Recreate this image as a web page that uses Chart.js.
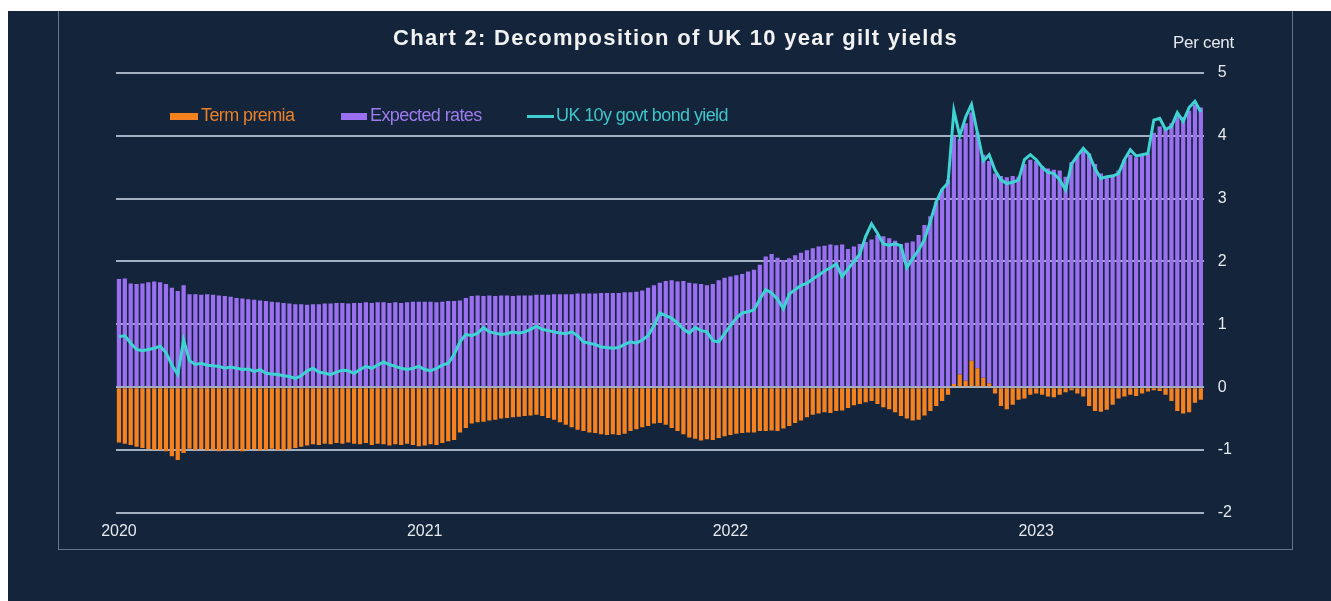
<!DOCTYPE html>
<html>
<head>
<meta charset="utf-8">
<title>Chart 2: Decomposition of UK 10 year gilt yields</title>
<script src="https://cdn.jsdelivr.net/npm/chart.js@4.4.0/dist/chart.umd.min.js"></script>
<style>
  html, body { margin: 0; padding: 0; background: #ffffff; }
  #wrap { position: relative; width: 1331px; height: 601px; overflow: hidden; }
  #bg { position: absolute; left: 8px; top: 11px; width: 1323px; height: 590px; background: #13243b; }
  #frame { position: absolute; left: 58px; top: 11px; width: 1233px; height: 538px;
           border: 1px solid #66758a; border-top: none; }
  canvas { position: absolute; left: 0; top: 0; }
  .txt { position: absolute; font-family: "Liberation Sans", Arial, sans-serif; white-space: nowrap; }
  #title { left: 0; width: 1351px; text-align: center; top: 25px; font-size: 22px; font-weight: bold;
           color: #f2f2f2; letter-spacing: 1.3px; }
  #unit { left: 1173px; top: 33px; font-size: 17px; color: #e6e9ee; letter-spacing: -0.3px; }
  .leg { top: 105px; font-size: 18px; letter-spacing: -0.6px; }
  .sw { position: absolute; }
</style>
</head>
<body>
<div id="wrap">
  <div id="bg"></div>
  <div id="frame"></div>
  <canvas id="chart" width="1331" height="601"></canvas>
  <div class="txt" id="title">Chart 2: Decomposition of UK 10 year gilt yields</div>
  <div class="txt" id="unit">Per cent</div>
  <div class="sw" style="left:170px;top:113px;width:28px;height:7px;background:#f5821f"></div>
  <div class="txt leg" style="left:201px;color:#e8802a">Term premia</div>
  <div class="sw" style="left:341px;top:113px;width:26px;height:7px;background:#9a6ff0"></div>
  <div class="txt leg" style="left:370px;color:#9d7cf0">Expected rates</div>
  <div class="sw" style="left:527px;top:115px;width:27px;height:3px;background:#3fcfd0"></div>
  <div class="txt leg" style="left:556px;color:#3fc6c8">UK 10y govt bond yield</div>
</div>
<script>
// weekly observations, Jan 2020 - Jul 2023 (per cent)
const termPremia = [
  -0.88,-0.90,-0.92,-0.95,-0.97,-0.99,-1.00,-1.00,-1.02,-1.10,
  -1.16,-1.05,-0.98,-1.00,-0.99,-1.01,-1.00,-1.02,-1.01,-1.00,
  -1.01,-1.02,-1.00,-0.99,-1.01,-1.00,-0.98,-1.00,-1.01,-0.99,
  -0.97,-0.95,-0.93,-0.91,-0.92,-0.90,-0.91,-0.89,-0.90,-0.88,
  -0.90,-0.91,-0.89,-0.92,-0.90,-0.91,-0.93,-0.91,-0.92,-0.90,
  -0.92,-0.94,-0.93,-0.91,-0.92,-0.89,-0.86,-0.84,-0.72,-0.65,
  -0.58,-0.56,-0.55,-0.53,-0.52,-0.50,-0.49,-0.48,-0.47,-0.46,
  -0.45,-0.44,-0.46,-0.49,-0.52,-0.56,-0.60,-0.64,-0.68,-0.70,
  -0.72,-0.73,-0.75,-0.76,-0.75,-0.76,-0.74,-0.70,-0.67,-0.64,
  -0.62,-0.58,-0.57,-0.60,-0.65,-0.70,-0.75,-0.80,-0.82,-0.85,
  -0.83,-0.84,-0.81,-0.78,-0.76,-0.74,-0.73,-0.72,-0.72,-0.70,
  -0.70,-0.69,-0.70,-0.66,-0.62,-0.57,-0.53,-0.48,-0.44,-0.42,
  -0.40,-0.41,-0.38,-0.37,-0.33,-0.29,-0.27,-0.24,-0.22,-0.27,
  -0.32,-0.35,-0.40,-0.46,-0.50,-0.53,-0.52,-0.45,-0.38,-0.30,
  -0.22,-0.12, 0.05, 0.20, 0.10, 0.42, 0.30, 0.15, 0.06,-0.10,
  -0.30,-0.35,-0.28,-0.20,-0.18,-0.12,-0.10,-0.12,-0.15,-0.16,
  -0.12,-0.08,-0.05,-0.10,-0.15,-0.30,-0.38,-0.39,-0.36,-0.28,
  -0.18,-0.15,-0.12,-0.14,-0.10,-0.07,-0.05,-0.06,-0.12,-0.22,
  -0.38,-0.42,-0.40,-0.25,-0.20
];
const expectedRates = [
  1.72,1.73,1.65,1.64,1.65,1.67,1.68,1.67,1.64,1.58,
  1.53,1.62,1.48,1.48,1.47,1.48,1.47,1.46,1.45,1.44,
  1.42,1.41,1.40,1.39,1.38,1.37,1.36,1.35,1.34,1.33,
  1.32,1.32,1.31,1.32,1.32,1.33,1.33,1.34,1.34,1.33,
  1.34,1.34,1.35,1.34,1.35,1.35,1.34,1.35,1.34,1.35,
  1.36,1.36,1.36,1.36,1.35,1.36,1.37,1.37,1.38,1.42,
  1.45,1.46,1.45,1.46,1.45,1.46,1.46,1.45,1.46,1.46,
  1.46,1.47,1.47,1.47,1.48,1.48,1.48,1.48,1.49,1.49,
  1.49,1.49,1.50,1.50,1.50,1.50,1.51,1.51,1.52,1.54,
  1.58,1.62,1.66,1.69,1.70,1.68,1.69,1.66,1.65,1.64,
  1.62,1.64,1.70,1.74,1.76,1.78,1.80,1.84,1.87,1.95,
  2.08,2.12,2.06,2.02,2.05,2.10,2.14,2.18,2.21,2.24,
  2.25,2.27,2.26,2.27,2.20,2.24,2.28,2.31,2.35,2.42,
  2.40,2.37,2.33,2.28,2.30,2.32,2.42,2.58,2.72,2.95,
  3.15,3.30,3.95,3.75,4.10,3.95,3.75,3.55,3.54,3.40,
  3.36,3.34,3.36,3.35,3.55,3.62,3.60,3.52,3.48,3.46,
  3.45,3.35,3.58,3.68,3.76,3.72,3.55,3.40,3.36,3.38,
  3.45,3.62,3.70,3.66,3.68,3.72,4.05,4.15,4.12,4.20,
  4.35,4.30,4.40,4.50,4.45
];
const bondYield = [
  0.80,0.82,0.70,0.60,0.58,0.60,0.62,0.65,0.55,0.35,
  0.20,0.75,0.42,0.36,0.38,0.35,0.34,0.33,0.30,0.32,
  0.30,0.28,0.29,0.25,0.28,0.22,0.21,0.20,0.18,0.17,
  0.14,0.18,0.26,0.30,0.24,0.22,0.20,0.24,0.27,0.26,
  0.22,0.28,0.33,0.30,0.35,0.40,0.36,0.33,0.30,0.28,
  0.30,0.33,0.28,0.26,0.30,0.35,0.38,0.52,0.72,0.84,
  0.82,0.86,0.95,0.88,0.86,0.84,0.85,0.88,0.86,0.88,
  0.92,0.97,0.92,0.90,0.88,0.86,0.85,0.88,0.82,0.72,
  0.70,0.68,0.64,0.63,0.62,0.63,0.68,0.72,0.70,0.75,
  0.82,0.98,1.18,1.14,1.10,1.02,0.92,0.86,0.95,0.90,
  0.88,0.74,0.72,0.85,0.98,1.10,1.18,1.20,1.23,1.40,
  1.55,1.50,1.40,1.25,1.48,1.55,1.62,1.65,1.72,1.78,
  1.85,1.90,1.96,1.76,1.88,2.00,2.12,2.40,2.60,2.45,
  2.28,2.26,2.28,2.25,1.90,2.05,2.18,2.35,2.64,2.95,
  3.15,3.25,4.40,4.00,4.30,4.50,4.05,3.60,3.70,3.45,
  3.30,3.24,3.26,3.30,3.62,3.70,3.62,3.50,3.42,3.40,
  3.30,3.14,3.55,3.68,3.80,3.70,3.48,3.32,3.35,3.36,
  3.40,3.62,3.78,3.68,3.70,3.72,4.25,4.28,4.10,4.15,
  4.37,4.23,4.45,4.55,4.38
];
const yearLabels = ['2020', '2021', '2022', '2023'];

// week-start dates used as categories
const categories = [];
const start = Date.UTC(2020, 0, 6);
for (let i = 0; i < termPremia.length; i++) {
  categories.push(new Date(start + i * 7 * 86400000).toISOString().slice(0, 10));
}

const textColor = '#e6e9ee';
const font = { family: '"Liberation Sans", Arial, sans-serif', size: 16 };

new Chart(document.getElementById('chart').getContext('2d'), {
  type: 'bar',
  data: {
    labels: categories,
    datasets: [
      {
        type: 'line',
        label: 'UK 10y govt bond yield',
        data: bondYield,
        borderColor: '#3fd3d3',
        borderWidth: 3,
        pointRadius: 0,
        tension: 0,
        stack: 'yield',
        order: 0
      },
      {
        label: 'Term premia',
        data: termPremia,
        backgroundColor: '#f5821f',
        stack: 'bars',
        order: 1,
        barPercentage: 0.72,
        categoryPercentage: 1
      },
      {
        label: 'Expected rates',
        data: expectedRates,
        backgroundColor: '#9a6ff0',
        stack: 'bars',
        order: 1,
        barPercentage: 0.72,
        categoryPercentage: 1
      }
    ]
  },
  options: {
    responsive: false,
    animation: false,
    layout: { padding: { left: 116, right: 85, top: 73, bottom: 59 } },
    plugins: { legend: { display: false }, title: { display: false }, tooltip: { enabled: false } },
    scales: {
      x: {
        stacked: true,
        grid: { display: false },
        border: { display: false },
        ticks: {
          autoSkip: false,
          maxRotation: 0,
          padding: 1,
          color: textColor,
          font: font,
          callback: function (v, idx) {
            const lab = categories[idx];
            const yr = lab.slice(0, 4);
            if (lab.slice(5, 7) === '01' && +lab.slice(8, 10) <= 7 && yearLabels.includes(yr)) return yr;
            return '';
          }
        }
      },
      y: {
        position: 'right',
        stacked: true,
        min: -2,
        max: 5,
        z: 1,
        grid: { color: '#a3b0c2', lineWidth: 2, drawTicks: false },
        border: { display: false },
        ticks: { stepSize: 1, padding: 14, color: textColor, font: font }
      }
    }
  }
});
</script>
</body>
</html>
